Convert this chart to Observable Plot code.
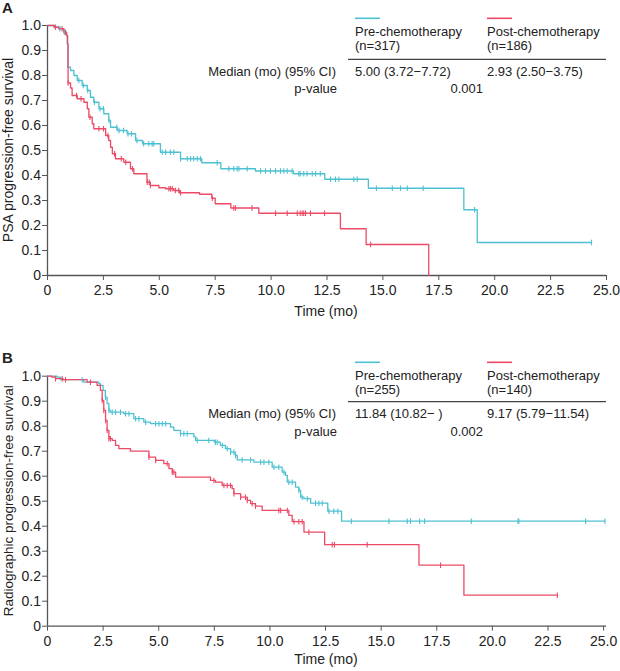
<!DOCTYPE html>
<html><head><meta charset="utf-8">
<script src="https://cdn.jsdelivr.net/npm/d3@7"></script>
<script src="https://cdn.jsdelivr.net/npm/@observablehq/plot@0.6"></script>
<style>
body{margin:0;background:#fff;}
#wrap{width:620px;}
#wrap svg{display:block;}
</style></head><body><div id="wrap"></div>
<script>
// ---------- data ----------
const groups = ["Pre-chemotherapy", "Post-chemotherapy"];
const xTicks = [0, 2.5, 5, 7.5, 10, 12.5, 15, 17.5, 20, 22.5, 25];
const yTicks = [0, 0.1, 0.2, 0.3, 0.4, 0.5, 0.6, 0.7, 0.8, 0.9, 1.0];

// Panel A: PSA progression-free survival
const aPreT = [0, 0.3, 0.55, 0.73, 0.85, 0.88, 0.91, 1.03, 1.18, 1.33, 1.55, 1.78, 1.92, 2.07, 2.3, 2.52, 2.74, 2.82, 3.12, 3.56, 3.94, 4.25, 5.05, 5.95, 6.9, 7.75, 9.3, 11.0, 12.4, 14.35, 18.62, 19.22, 24.33];
const aPreS = [1.0, 0.993, 0.987, 0.973, 0.96, 0.927, 0.833, 0.82, 0.80, 0.78, 0.76, 0.74, 0.713, 0.693, 0.667, 0.647, 0.62, 0.593, 0.58, 0.567, 0.54, 0.527, 0.493, 0.467, 0.451, 0.427, 0.418, 0.407, 0.385, 0.349, 0.263, 0.132, 0.132];
const aPreCens = [0.55, 0.75, 1.4, 1.6, 1.8, 2.1, 2.35, 2.5, 2.75, 3.1, 3.2, 3.4, 3.6, 3.75, 4.0, 4.3, 4.53, 4.68, 4.75, 5.13, 5.28, 5.5, 5.65, 5.95, 6.25, 6.4, 6.54, 6.7, 6.84, 7.59, 8.11, 8.33, 8.48, 8.56, 8.93, 9.53, 9.75, 9.97, 10.2, 10.42, 10.57, 10.72, 10.94, 11.24, 11.3, 11.46, 11.61, 11.84, 11.99, 12.2, 12.66, 12.88, 13.03, 13.7, 13.85, 14.71, 15.42, 15.79, 16.09, 16.8, 19.1, 24.33];

const aPostT = [0, 0.3, 0.5, 0.73, 0.85, 0.9, 0.92, 1.03, 1.1, 1.33, 1.63, 1.78, 1.85, 2.0, 2.07, 2.6, 2.74, 2.82, 2.9, 3.04, 3.41, 3.71, 3.86, 4.45, 4.6, 4.98, 5.28, 5.65, 5.9, 6.8, 7.35, 7.5, 8.2, 9.45, 13.1, 14.25, 17.05];
const aPostS = [1.0, 0.993, 0.987, 0.973, 0.96, 0.927, 0.77, 0.75, 0.72, 0.707, 0.693, 0.667, 0.633, 0.607, 0.587, 0.56, 0.54, 0.513, 0.487, 0.467, 0.453, 0.427, 0.407, 0.373, 0.36, 0.351, 0.347, 0.34, 0.331, 0.325, 0.309, 0.287, 0.27, 0.249, 0.187, 0.124, 0];
const aPostCens = [0.35, 0.65, 0.8, 0.92, 1.3, 1.5, 1.9, 2.3, 2.5, 2.7, 3.0, 3.3, 3.5, 3.8, 4.46, 4.55, 4.6, 5.43, 5.5, 5.58, 5.72, 5.87, 5.95, 7.37, 8.33, 8.41, 9.15, 10.2, 10.72, 11.17, 11.3, 11.39, 11.46, 11.54, 11.76, 12.39, 14.45];

// Panel B: Radiographic progression-free survival
const bPreT = [0, 0.43, 0.58, 1.63, 2.31, 2.38, 2.5, 2.6, 2.68, 2.76, 2.83, 3.43, 3.88, 4.33, 4.63, 5.53, 5.68, 5.98, 6.58, 6.66, 7.5, 7.77, 8.0, 8.23, 8.45, 8.53, 9.28, 10.1, 10.55, 10.7, 10.78, 11.15, 11.3, 11.38, 11.53, 11.83, 12.6, 13.22, 25.06];
const bPreS = [1.0, 0.996, 0.986, 0.976, 0.97, 0.963, 0.943, 0.916, 0.89, 0.863, 0.856, 0.85, 0.83, 0.816, 0.81, 0.796, 0.783, 0.77, 0.757, 0.743, 0.736, 0.723, 0.71, 0.696, 0.683, 0.665, 0.656, 0.636, 0.616, 0.603, 0.576, 0.556, 0.543, 0.516, 0.51, 0.492, 0.46, 0.42, 0.42];
const bPreCens = [1.56, 2.61, 2.76, 2.91, 3.06, 3.28, 3.51, 3.66, 3.96, 4.11, 4.41, 4.86, 5.01, 5.16, 5.31, 5.98, 6.13, 6.28, 6.73, 7.25, 7.55, 7.63, 7.86, 8.08, 8.23, 8.38, 8.45, 8.75, 9.13, 9.58, 9.73, 9.95, 10.18, 10.4, 10.63, 10.85, 11.0, 11.3, 11.45, 11.68, 12.05, 12.2, 12.35, 12.65, 12.87, 13.05, 13.66, 15.35, 16.17, 16.32, 16.73, 16.95, 19.05, 21.15, 21.19, 24.19, 25.06];

const bPostT = [0, 0.2, 0.36, 0.7, 1.78, 2.23, 2.38, 2.46, 2.53, 2.61, 2.68, 2.76, 2.91, 3.06, 3.21, 3.73, 4.56, 4.86, 5.23, 5.46, 5.61, 5.76, 7.33, 7.55, 7.85, 8.3, 8.38, 8.68, 8.98, 9.13, 9.35, 9.65, 10.85, 11.0, 11.53, 12.46, 16.7, 18.72, 22.92];
const bPostS = [1.0, 0.996, 0.99, 0.986, 0.976, 0.963, 0.943, 0.903, 0.863, 0.823, 0.783, 0.75, 0.743, 0.723, 0.71, 0.7, 0.676, 0.663, 0.65, 0.63, 0.616, 0.596, 0.583, 0.576, 0.563, 0.55, 0.53, 0.516, 0.503, 0.49, 0.48, 0.463, 0.443, 0.418, 0.376, 0.326, 0.244, 0.124, 0.124];
const bPostCens = [0.36, 0.66, 0.81, 1.93, 2.46, 2.53, 2.61, 2.68, 2.76, 2.83, 4.56, 4.86, 5.38, 5.61, 5.68, 7.48, 7.93, 8.08, 8.23, 8.38, 8.68, 8.9, 8.98, 9.2, 9.35, 10.4, 10.48, 10.78, 11.08, 11.3, 11.45, 11.75, 12.8, 12.9, 14.37, 17.67, 22.92];

// Legend table texts
const aN = ["(n=317)", "(n=186)"];
const aMedian = ["5.00 (3.72\u22127.72)", "2.93 (2.50\u22123.75)"];
const aP = "0.001";
const bN = ["(n=255)", "(n=140)"];
const bMedian = ["11.84 (10.82\u2212 )", "9.17 (5.79\u221211.54)"];
const bP = "0.002";

// ---------- drawing ----------
const colors = ["#4dc1d1", "#ec4a65"];
const FONT = "'Liberation Sans', Arial, Helvetica, sans-serif";
const tickSym = {draw(ctx, size) { const r = Math.sqrt(size / Math.PI); ctx.moveTo(0, -r); ctx.lineTo(0, r); }};
const fmt = d => d === 0 ? "0" : d.toFixed(1);

function steps(T, S) { return T.map((t, i) => ({t, s: S[i]})); }
function cens(C, T, S) { return C.map(c => { const i = Math.max(0, d3.bisectRight(T, c) - 1); return {t: c, s: S[i]}; }); }

function panel(cfg) {
  const plot = Plot.plot({
    width: 620, height: cfg.height,
    marginLeft: 47, marginRight: 14, marginTop: cfg.top, marginBottom: cfg.height - cfg.top - 250,
    style: {fontFamily: FONT, fontSize: "14px", color: "#222", background: "#fff", overflow: "visible"},
    x: {domain: [0, cfg.xmax]},
    y: {domain: [0, 1]},
    marks: [
      Plot.axisX({ticks: xTicks, tickFormat: fmt, tickSize: 5, tickPadding: 5, label: null, stroke: "#555"}),
      Plot.axisY({ticks: yTicks, tickFormat: fmt, tickSize: 5, tickPadding: 1.5, label: null, stroke: "#555"}),
      Plot.ruleX([0], {stroke: "#555", strokeWidth: 1.3}),
      Plot.ruleY([0], {stroke: "#555", strokeWidth: 1.3}),
      Plot.line(steps(cfg.preT, cfg.preS), {x: "t", y: "s", curve: "step-after", stroke: colors[0], strokeWidth: 1.3}),
      Plot.line(steps(cfg.postT, cfg.postS), {x: "t", y: "s", curve: "step-after", stroke: colors[1], strokeWidth: 1.3}),
      Plot.dot(cens(cfg.preC, cfg.preT, cfg.preS), {x: "t", y: "s", symbol: tickSym, r: 2.8, fill: "none", stroke: colors[0], strokeWidth: 1.1}),
      Plot.dot(cens(cfg.postC, cfg.postT, cfg.postS), {x: "t", y: "s", symbol: tickSym, r: 2.8, fill: "none", stroke: colors[1], strokeWidth: 1.1})
    ]
  });
  const svg = d3.select(plot);
  const g = svg.append("g").attr("font-family", FONT).attr("fill", "#222");
  const txt = (x, y, s, anchor = "start", size = 13, weight = "normal") =>
    g.append("text").attr("x", x).attr("y", y).attr("text-anchor", anchor).attr("font-size", size).attr("font-weight", weight).text(s);
  const L = cfg.leg;
  // panel letter
  txt(2, cfg.letterY, cfg.letter, "start", 15, "bold");
  // axis titles
  txt(326, cfg.xlabY, "Time (mo)", "middle", 14);
  g.append("text").attr("transform", `translate(13,${cfg.top + 125}) rotate(-90)`).attr("text-anchor", "middle").attr("font-size", cfg.ysize).text(cfg.ylabel);
  // legend table
  [355, 487].forEach((x, i) => {
    g.append("line").attr("x1", x).attr("x2", x + 25).attr("y1", L.line).attr("y2", L.line).attr("stroke", colors[i]).attr("stroke-width", 1.6);
    txt(x, L.name, groups[i]);
    txt(x, L.n, cfg.n[i]);
    txt(x, L.med, cfg.med[i]);
  });
  g.append("line").attr("x1", 348).attr("x2", 606).attr("y1", L.rule).attr("y2", L.rule).attr("stroke", "#444").attr("stroke-width", 1.2);
  txt(336, L.med, "Median (mo) (95% CI)", "end");
  txt(337, L.p, "p-value", "end");
  txt(483, L.p, cfg.p, "end");
  return plot;
}

const wrap = document.getElementById("wrap");
wrap.appendChild(panel({
  height: 335, top: 25, xmax: 25, letter: "A", letterY: 13, xlabY: 316,
  ylabel: "PSA progression-free survival", ysize: 14,
  preT: aPreT, preS: aPreS, preC: aPreCens, postT: aPostT, postS: aPostS, postC: aPostCens,
  n: aN, med: aMedian, p: aP,
  leg: {line: 18.3, name: 36, n: 49.5, rule: 59.3, med: 76, p: 93}
}));
wrap.appendChild(panel({
  height: 336, top: 40.7, xmax: 25.13, letter: "B", letterY: 28, xlabY: 329,
  ylabel: "Radiographic progression-free survival", ysize: 13.5,
  preT: bPreT, preS: bPreS, preC: bPreCens, postT: bPostT, postS: bPostS, postC: bPostCens,
  n: bN, med: bMedian, p: bP,
  leg: {line: 27.3, name: 44.5, n: 59, rule: 66.7, med: 83, p: 101}
}));
</script></body></html>
